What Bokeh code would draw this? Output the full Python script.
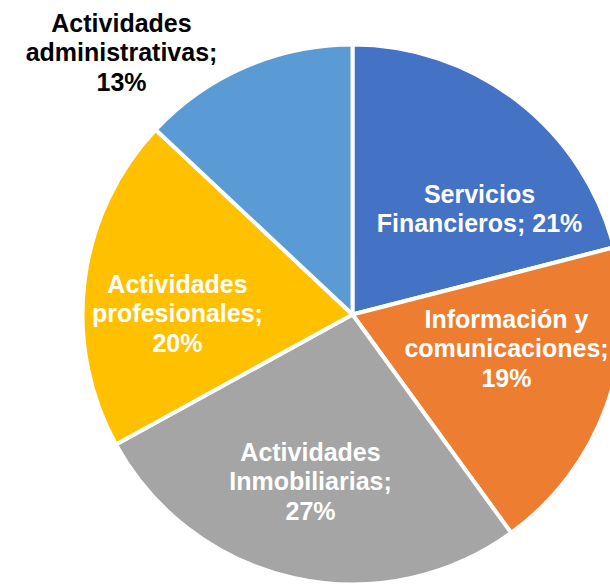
import math
from bokeh.plotting import figure
from bokeh.models import Range1d, ColumnDataSource
from bokeh.core.properties import value
from bokeh.embed import file_html
from bokeh.resources import INLINE

# ---- data ----
categories = ["Servicios Financieros", "Información y comunicaciones",
              "Actividades Inmobiliarias", "Actividades profesionales",
              "Actividades administrativas"]
label_texts = ["Servicios\nFinancieros; 21%", "Información y\ncomunicaciones;\n19%",
               "Actividades\nInmobiliarias;\n27%", "Actividades\nprofesionales;\n20%",
               "Actividades\nadministrativas;\n13%"]
shares = [21, 19, 27, 20, 13]
colors = ["#4472C4", "#ED7D31", "#A5A5A5", "#FFC000", "#5B9BD5"]

# ---- layout (picture pixel coordinates) ----
W, H = 610, 587
CX, CY, R = 352, 314, 270
label_pos = [(479, 208), (506, 348), (310, 481), (177, 313), (121, 52)]
label_colors = ["white", "white", "white", "white", "black"]

def ty(py):
    return H - py

total = float(sum(shares))
starts, ends = [], []
cum = 0.0
for s in shares:
    a0 = math.pi / 2 - 2 * math.pi * cum / total
    cum += s
    a1 = math.pi / 2 - 2 * math.pi * cum / total
    starts.append(a1)
    ends.append(a0)

src = ColumnDataSource(dict(cat=categories, share=shares, start=starts, end=ends, color=colors))

p = figure(width=W, height=H, output_backend="svg", toolbar_location=None,
           x_range=Range1d(0, W), y_range=Range1d(0, H), min_border=0)
p.axis.visible = False
p.grid.visible = False
p.outline_line_color = None
p.background_fill_color = "white"

p.wedge(x=CX, y=ty(CY), radius=R, radius_units="screen", start_angle="start", end_angle="end",
        fill_color="color", line_color="white", line_width=4, source=src)

lsrc = ColumnDataSource(dict(x=[q[0] for q in label_pos], y=[ty(q[1]) for q in label_pos],
                             t=label_texts, c=label_colors))
p.text(x="x", y="y", text="t", text_color="c", source=lsrc,
       text_font=value("Liberation Sans"), text_font_style="bold", text_font_size="25px",
       text_align="center", text_baseline="middle", text_line_height=1.07)

open("out.html", "w").write(file_html(p, INLINE))
